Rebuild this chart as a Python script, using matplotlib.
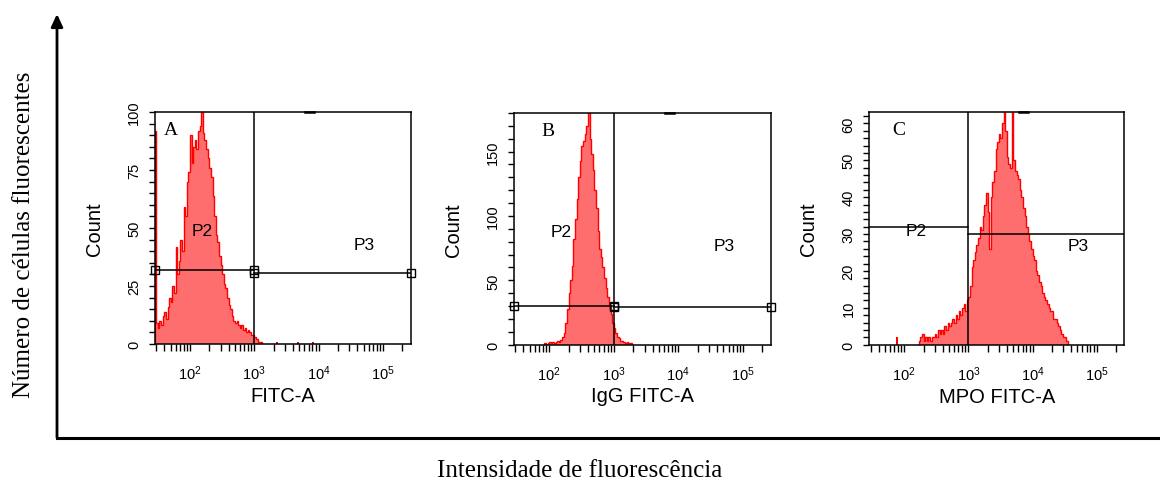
import numpy as np
import matplotlib
matplotlib.use('Agg')
import matplotlib.pyplot as plt
from matplotlib.lines import Line2D
from matplotlib.patches import FancyArrowPatch
from matplotlib.ticker import FixedLocator, LogLocator, MultipleLocator, NullFormatter

plt.rcParams['font.family'] = ['Liberation Sans', 'DejaVu Sans']
plt.rcParams['mathtext.default'] = 'regular'

# histogram channels are equal steps in log10(intensity)
BIN = 0.025

# panel A - FITC-A (unstained)
A_START = 1.45
A_COUNTS = [92, 9, 7, 10, 8, 12, 14, 11, 16, 20,
            18, 25, 22, 42, 30, 36, 45, 40, 59, 55,
            70, 74, 90, 78, 85, 88, 84, 92, 94, 100,
            91, 88, 84, 80, 76, 72, 64, 55, 47, 44,
            38, 34, 30, 26, 24, 20, 17, 15, 12, 10,
            9, 10, 8, 7, 8, 6, 7, 5, 6, 5,
            4, 4, 3, 2, 1, 1, 1, 0]
A_EVENTS_LOG = [3.34, 3.67, 3.90]
A_EVENTS_COUNT = [1, 1, 1]

# panel B - IgG FITC-A (isotype)
B_START = 1.90
B_COUNTS = [0, 1, 0, 1, 2, 1, 2, 1, 2, 3,
            2, 4, 6, 9, 17, 28, 40, 50, 61, 82,
            98, 113, 130, 143, 154, 158, 164, 170, 185, 160,
            148, 136, 120, 106, 88, 74, 68, 60, 52, 44,
            37, 30, 24, 17, 13, 9, 6, 5, 3, 3,
            2, 1, 2, 1, 1, 0]
B_EVENTS_LOG = []
B_EVENTS_COUNT = []

# panel C - MPO FITC-A
C_START = 2.20
C_COUNTS = [0, 1, 2, 3, 1, 2, 1, 2, 1, 2,
            2, 3, 2, 4, 3, 4, 3, 5, 4, 6,
            5, 6, 7, 6, 8, 7, 9, 8, 10, 11,
            9, 12, 13, 16, 21, 23, 25, 27, 29, 32,
            31, 35, 38, 41, 36, 26, 40, 44, 47, 53,
            55, 57, 56, 60, 65, 58, 51, 49, 48, 65,
            50, 47, 46, 45, 42, 40, 37, 35, 32, 30,
            28, 26, 24, 23, 20, 19, 17, 16, 14, 13,
            12, 11, 10, 9, 9, 7, 7, 6, 5, 4,
            3, 2, 2, 1, 0]
C_EVENTS_LOG = [1.87]
C_EVENTS_COUNT = [2]

LETTERS = ['A', 'B', 'C']
XLABELS = ['FITC-A', 'IgG FITC-A', 'MPO FITC-A']
YMAX = [100, 180, 63]
YMAJOR = [25, 50, 10]
YMINOR = [5, 10, 2]
GATE_P2 = [32, 30, 32]
GATE_P3 = [30.5, 29, 30]
GATE_SPLIT = 1e3
XDECADES = [1e2, 1e3, 1e4, 1e5]
XTICKLABELS = [r'$10^{2}$', r'$10^{3}$', r'$10^{4}$', r'$10^{5}$']

RED = '#ff0000'
FILL = '#ff6e6e'

fig = plt.figure(figsize=(11.6, 4.81), dpi=100)

boxes = [[0.1336, 0.2827, 0.2203, 0.4823],
         [0.4431, 0.2813, 0.2213, 0.4817],
         [0.7494, 0.2813, 0.2198, 0.4831]]
letter_pos = [0.063, 0.132, 0.116]
squares = [True, True, False]

data = [(A_START, A_COUNTS, A_EVENTS_LOG, A_EVENTS_COUNT),
        (B_START, B_COUNTS, B_EVENTS_LOG, B_EVENTS_COUNT),
        (C_START, C_COUNTS, C_EVENTS_LOG, C_EVENTS_COUNT)]

for i, (start, counts, ev_log, ev_count) in enumerate(data):
    ax = fig.add_axes(boxes[i])
    edges = 10 ** (start + BIN * np.arange(len(counts) + 1))
    ax.stairs(counts, edges, fill=True, color=FILL, lw=0, zorder=1)
    ax.stairs(counts, edges, color=RED, lw=1.0, zorder=2)
    for lg, c in zip(ev_log, ev_count):
        ax.stairs([c], [10 ** lg, 10 ** (lg + BIN)], fill=True, color=RED, lw=1.0, zorder=2)

    ax.set_xscale('log')
    ax.set_xlim(10 ** 1.455, 10 ** 5.43)
    ax.set_ylim(0, YMAX[i])

    # gates
    x0, x1 = ax.get_xlim()
    ax.axvline(GATE_SPLIT, color='black', lw=1.1, zorder=3)
    ax.plot([x0, GATE_SPLIT], [GATE_P2[i], GATE_P2[i]], color='black', lw=1.1, zorder=3)
    ax.plot([GATE_SPLIT, x1], [GATE_P3[i], GATE_P3[i]], color='black', lw=1.1, zorder=3)
    if squares[i]:
        ax.plot([x0, GATE_SPLIT], [GATE_P2[i], GATE_P2[i]], ls='none', marker='s', ms=6,
                mfc='none', mec='black', mew=1.0, zorder=4, clip_on=False)
        ax.plot([GATE_SPLIT, x1], [GATE_P3[i], GATE_P3[i]], ls='none', marker='s', ms=6,
                mfc='none', mec='black', mew=1.0, zorder=4, clip_on=False)
    # small handle on the top edge
    ax.plot([6200, 8600], [YMAX[i], YMAX[i]], color='black', lw=1.8, clip_on=False, zorder=4)

    ax.text(0.185, 0.49, 'P2', transform=ax.transAxes, fontsize=12.5, ha='center', va='center')
    ax.text(0.82, 0.428, 'P3', transform=ax.transAxes, fontsize=12.5, ha='center', va='center')
    ax.text(letter_pos[i], 0.925, LETTERS[i], transform=ax.transAxes, fontsize=14,
            family='Liberation Serif', ha='center', va='center')

    # axes styling
    for s in ax.spines.values():
        s.set_linewidth(1.1)
    ax.xaxis.set_major_locator(FixedLocator(XDECADES))
    ax.set_xticklabels(XTICKLABELS)
    ax.xaxis.set_minor_locator(LogLocator(base=10, subs=np.arange(2, 10), numticks=30))
    ax.xaxis.set_minor_formatter(NullFormatter())
    ax.yaxis.set_major_locator(MultipleLocator(YMAJOR[i]))
    ax.yaxis.set_minor_locator(MultipleLocator(YMINOR[i]))
    ax.tick_params(axis='x', which='both', direction='out', length=5, width=1.0, pad=9,
                   labelsize=10.5)
    ax.tick_params(axis='y', which='both', direction='out', length=4, width=1.0, pad=6,
                   labelsize=10.5)
    for lab in ax.get_yticklabels():
        lab.set_rotation(90)
        lab.set_va('center')
    ax.set_xlabel(XLABELS[i], fontsize=14.5)
    ax.xaxis.set_label_coords(0.5, -0.18)
    ax.set_ylabel('Count', fontsize=14.5)
    ax.yaxis.set_label_coords(-0.2, 0.5)

# outer axes with arrow
y_base = 1 - 438.5 / 481
x_base = 57 / 1160
fig.add_artist(FancyArrowPatch((x_base, y_base), (x_base, 1 - 15 / 481),
                               transform=fig.transFigure,
                               arrowstyle='-|>,head_length=0.75,head_width=0.35',
                               mutation_scale=10, lw=2.0, color='black',
                               shrinkA=0, shrinkB=0))
fig.add_artist(Line2D([x_base, 1.0], [y_base, y_base], transform=fig.transFigure,
                      lw=2.2, color='black', solid_capstyle='projecting'))

fig.text(24 / 1160, 1 - 234.5 / 481, 'Número de células fluorescentes', rotation=90,
         ha='center', va='center', fontsize=18, family='Liberation Serif')
fig.text(580 / 1160, 1 - 477 / 481, 'Intensidade de fluorescência',
         ha='center', va='baseline', fontsize=18, family='Liberation Serif')

fig.savefig('out.png', dpi=100)
